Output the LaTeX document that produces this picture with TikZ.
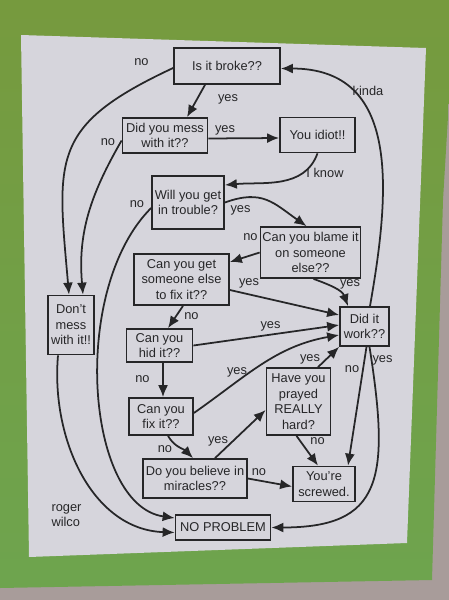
\documentclass[tikz,border=0pt]{standalone}
\usepackage{fontspec}
\setmainfont{Liberation Sans}
\usetikzlibrary{arrows.meta}

\definecolor{wallgray}{RGB}{168,156,154}
\definecolor{boardtop}{RGB}{118,154,62}
\definecolor{boardlow}{RGB}{110,164,78}
\definecolor{sheet}{RGB}{214,213,220}
\definecolor{ink}{RGB}{38,38,40}

\begin{document}
\begin{tikzpicture}[>=Latex,
  qbox/.style={draw=ink,line width=1pt,fill=sheet,align=center,text=ink,font=\fontsize{7.3}{8.8}\selectfont,inner sep=0.5pt},
  lbl/.style={text=ink,font=\fontsize{7.3}{8.8}\selectfont,inner sep=0pt},
  arr/.style={-{Latex[length=2.4mm,width=2mm]},draw=ink,line width=1pt}]
% wall, green board and the sheet of paper
\fill[wallgray] (0,0) rectangle (8.98,-12);
\shade[top color=boardtop,bottom color=boardlow] (0,0) -- (8.98,0) -- (8.98,-2.0) -- (8.86,-4.0) -- (8.64,-11.6) -- (0,-11.76) -- cycle;
\fill[sheet] (0.42,-0.70) -- (8.52,-0.96) -- (8.14,-10.86) -- (0.58,-11.14) -- cycle;

\node[qbox,minimum width=2.12cm,minimum height=0.72cm] (broke) at (4.54,-1.32) {Is it broke??};
\node[qbox,minimum width=1.70cm,minimum height=0.70cm] (mess) at (3.30,-2.71) {Did you mess\\with it??};
\node[qbox,minimum width=1.50cm,minimum height=0.70cm] (idiot) at (6.35,-2.70) {You idiot!!};
\node[qbox,minimum width=1.44cm,minimum height=1.06cm] (trouble) at (3.76,-4.05) {Will you get\\in trouble?};
\node[qbox,minimum width=2.00cm,minimum height=1.02cm] (blame) at (6.21,-5.05) {Can you blame it\\on someone\\else??};
\node[qbox,minimum width=1.90cm,minimum height=1.02cm] (getfix) at (3.63,-5.59) {Can you get\\someone else\\to fix it??};
\node[qbox,minimum width=0.92cm,minimum height=1.18cm] (dontmess) at (1.42,-6.50) {Don't\\mess\\with it!!};
\node[qbox,minimum width=0.98cm,minimum height=0.78cm] (work) at (7.29,-6.53) {Did it\\work??};
\node[qbox,minimum width=1.32cm,minimum height=0.66cm] (hid) at (3.19,-6.91) {Can you\\hid it??};
\node[qbox,minimum width=1.28cm,minimum height=1.34cm] (prayed) at (5.97,-8.03) {Have you\\prayed\\REALLY\\hard?};
\node[qbox,minimum width=1.28cm,minimum height=0.74cm] (fix) at (3.22,-8.33) {Can you\\fix it??};
\node[qbox,minimum width=2.08cm,minimum height=0.78cm] (miracles) at (3.90,-9.57) {Do you believe in\\miracles??};
\node[qbox,minimum width=1.24cm,minimum height=0.70cm] (screwed) at (6.48,-9.68) {You're\\screwed.};
\node[qbox,minimum width=1.90cm,minimum height=0.50cm] (noprob) at (4.46,-10.55) {NO PROBLEM};

% answers
\node[lbl] (lno1) at (2.83,-1.25) {no};
\node[lbl] (lyes1) at (4.56,-1.98) {yes};
\node[lbl] (lno2) at (2.16,-2.85) {no};
\node[lbl] (lyes2) at (4.50,-2.61) {yes};
\node[lbl] (lknow) at (6.50,-3.46) {I know};
\node[lbl] (lkinda) at (7.36,-1.81) {kinda};
\node[lbl] (lno3) at (2.74,-4.08) {no};
\node[lbl] (lyes3) at (4.81,-4.20) {yes};
\node[lbl] (lno4) at (5.01,-4.75) {no};
\node[lbl] (lyes4) at (4.98,-5.66) {yes};
\node[lbl] (lyes5) at (7.00,-5.68) {yes};
\node[lbl] (lno5) at (3.83,-6.32) {no};
\node[lbl] (lyes6) at (5.41,-6.52) {yes};
\node[lbl] (lno6) at (2.85,-7.58) {no};
\node[lbl] (lyes7) at (4.74,-7.45) {yes};
\node[lbl] (lyes8) at (6.20,-7.18) {yes};
\node[lbl] (lno7) at (7.04,-7.38) {no};
\node[lbl] (lyes9) at (7.65,-7.20) {yes};
\node[lbl] (lyes10) at (4.36,-8.83) {yes};
\node[lbl] (lno8) at (3.30,-8.98) {no};
\node[lbl] (lno9) at (6.35,-8.82) {no};
\node[lbl] (lno10) at (5.18,-9.45) {no};
\node[lbl,align=left] (lroger) at (1.33,-10.31) {roger\\wilco};

\draw[arr] ([xshift=-0.44cm]broke.south) -- ([xshift=0.44cm]mess.north);
\draw[arr] ([yshift=-0.04cm]broke.west) to[out=205,in=95,looseness=1.4] ([xshift=-0.04cm]dontmess.north);
\draw[arr] ([yshift=-0.1cm]mess.west) to[out=240,in=95] ([xshift=0.24cm]dontmess.north);
\draw[arr] ([yshift=-0.06cm]mess.east) -- ([yshift=-0.06cm]idiot.west);
\draw[arr] (idiot.south) to[out=250,in=5] ([yshift=0.35cm]trouble.east);
\draw[arr] (trouble.east) to[out=20,in=145,looseness=1.2] ([xshift=-0.08cm]blame.north);
\draw[arr] (blame.west) -- ([yshift=0.35cm]getfix.east);
\draw[arr] ([xshift=0.06cm]blame.south) to[out=-20,in=110] ([xshift=-0.33cm]work.north);
\draw[arr] ([yshift=-0.21cm]getfix.east) -- ([yshift=0.23cm]work.west);
\draw[arr] ([xshift=0.03cm]getfix.south) -- ([xshift=0.17cm]hid.north);
\draw[arr] (hid.east) -- ([yshift=0.03cm]work.west);
\draw[arr] ([xshift=0.07cm]hid.south) -- ([xshift=0.04cm]fix.north);
\draw[arr] ([yshift=0.07cm]fix.east) to[out=35,in=190] ([yshift=-0.17cm]work.west);
\draw[arr] ([xshift=0.14cm]fix.south) to[out=-60,in=135] ([xshift=-0.04cm]miracles.north);
\draw[arr] ([xshift=0.4cm]miracles.north) -- ([yshift=-0.17cm]prayed.west);
\draw[arr] ([xshift=0.39cm]prayed.north) -- (work.south west);
\draw[arr] ([xshift=-0.04cm]prayed.south) -- ([xshift=-0.12cm]screwed.north);
\draw[arr] (miracles.east) -- ([yshift=-0.05cm]screwed.west);
\draw[arr] ([xshift=0.04cm]work.south) -- ([xshift=0.48cm]screwed.north);
\draw[arr] ([xshift=0.1cm]work.south) to[out=-81,in=0,out distance=2.7cm,in distance=2.2cm] (noprob.east);
\draw[arr] ([xshift=0.11cm]work.north) to[out=80,in=0,looseness=1.2] ([yshift=-0.05cm]broke.east);
\draw[arr] ([yshift=-0.11cm]trouble.west) to[out=225,in=172,out distance=2.3cm,in distance=1.8cm] ([yshift=0.19cm]noprob.west);
\draw[arr] ([xshift=-0.26cm]dontmess.south) to[out=-95,in=178] ([yshift=-0.1cm]noprob.west);
\end{tikzpicture}
\end{document}
